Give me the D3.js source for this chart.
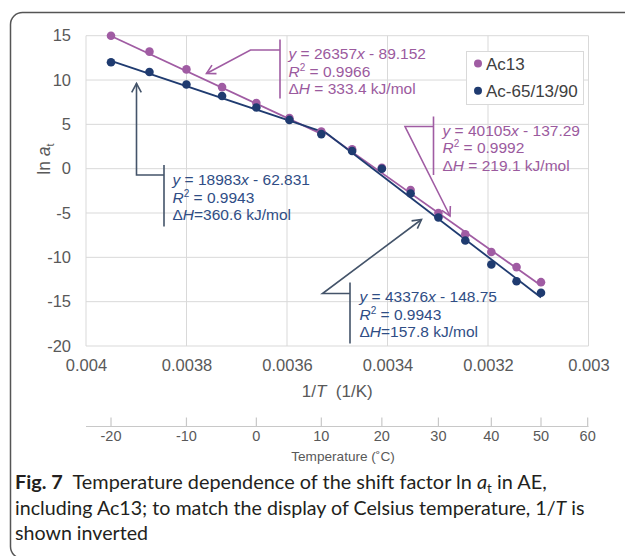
<!DOCTYPE html>
<html>
<head>
<meta charset="utf-8">
<script src="https://cdn.jsdelivr.net/npm/d3@7"></script>
<style>
  html, body { margin: 0; padding: 0; background: #fff; }
  svg { display: block; }
  .tick-lbl { font-family: "Liberation Sans", Arial, sans-serif; fill: #595959; }
  .caption { font-family: Lato, "Noto Sans", sans-serif; fill: #231f20; }
</style>
</head>
<body>
<svg id="chart" width="625" height="556"></svg>
<script>
(function() {
    'use strict';

    // temperatures of the measurements (deg C), x is 1/T
    var temps = [-20, -15, -10, -5, 0, 5, 10, 15, 20, 25, 30, 35, 40, 45, 50];
    var ac13  = [15.0, 13.2, 11.2, 9.2, 7.4, 5.7, 4.2, 2.2, 0.1, -2.4, -5.0, -7.4, -9.4, -11.1, -12.8];
    var ac65  = [12.0, 10.9, 9.5, 8.2, 6.9, 5.5, 3.9, 2.0, 0.0, -2.8, -5.5, -8.1, -10.8, -12.7, -14.0];

    var seriesNames = ["Ac13", "Ac-65/13/90"];
    var seriesColors = ["#a05ca3", "#1f3b70"];

    // trend lines (Excel linear fits) as printed on the chart
    var fitSeries    = [0, 0, 1, 1];
    var fitSlope     = [26357, 40105, 18983, 43376];
    var fitIntercept = [-89.152, -137.29, -62.831, -148.75];
    var fitR2        = ["0.9966", "0.9992", "0.9943", "0.9943"];
    var fitDH        = ["333.4", "219.1", "360.6", "157.8"];
    var fitFrom      = [-20, 10, -20, 10];
    var fitTo        = [10, 50, 10, 50];

    var xTicks = [0.004, 0.0038, 0.0036, 0.0034, 0.0032, 0.003];
    var yTicks = [15, 10, 5, 0, -5, -10, -15, -20];
    var tempTicks = [-20, -10, 0, 10, 20, 30, 40, 50, 60];

    var invT = function(t) { return 1 / (t + 273.15); };

    var svg = d3.select("#chart");

    // outer frame
    svg.append("rect")
        .attr("x", 10.5).attr("y", 12.5)
        .attr("width", 660).attr("height", 546)
        .attr("rx", 12)
        .attr("fill", "none")
        .attr("stroke", "#555")
        .attr("stroke-width", 1.5);

    var x = d3.scaleLinear().domain([0.004, 0.003]).range([86, 588.5]);
    var y = d3.scaleLinear().domain([-20, 15]).range([346, 35.7]);

    // grid
    var grid = svg.append("g").attr("stroke", "#d9d9d9").attr("stroke-width", 1);
    grid.selectAll("line.v").data(xTicks).enter().append("line")
        .attr("x1", function(d) { return x(d); }).attr("x2", function(d) { return x(d); })
        .attr("y1", y(15)).attr("y2", y(-20));
    grid.selectAll("line.h").data(yTicks).enter().append("line")
        .attr("x1", x(0.004)).attr("x2", x(0.003))
        .attr("y1", function(d) { return y(d); }).attr("y2", function(d) { return y(d); });

    // axes (labels only, Excel style)
    var xAxis = d3.axisBottom(x).tickValues(xTicks).tickSize(0).tickPadding(13)
        .tickFormat(function(d) { return String(+d.toFixed(4)); });
    var gx = svg.append("g").attr("transform", "translate(0," + y(-20) + ")").call(xAxis);
    var yAxis = d3.axisLeft(y).tickValues(yTicks).tickSize(0).tickPadding(15)
        .tickFormat(function(d) { return String(d); });
    var gy = svg.append("g").attr("transform", "translate(" + x(0.004) + ",0)").call(yAxis);
    [gx, gy].forEach(function(g) {
        g.select(".domain").remove();
        g.selectAll("text").attr("class", "tick-lbl")
            .style("font-size", "16.5px").attr("fill", "#595959");
    });

    // y title: ln a_t
    var yt = svg.append("text")
        .attr("transform", "translate(50,159) rotate(-90)")
        .attr("text-anchor", "middle")
        .attr("class", "tick-lbl")
        .style("font-size", "17.5px");
    yt.append("tspan").text("ln ");
    yt.append("tspan").style("font-style", "italic").text("a");
    yt.append("tspan").attr("dy", 4).style("font-size", "11px").text("t");

    // x title
    var xt = svg.append("text")
        .attr("x", (x.range()[0] + x.range()[1]) / 2).attr("y", 397)
        .attr("text-anchor", "middle")
        .attr("class", "tick-lbl")
        .style("font-size", "17px")
        .attr("xml:space", "preserve");
    xt.append("tspan").text("1/");
    xt.append("tspan").style("font-style", "italic").text("T");
    xt.append("tspan").text("\u00a0 (1/K)");

    // trend lines
    var lines = svg.append("g");
    fitSlope.forEach(function(m, i) {
        var pts = [fitFrom[i], fitTo[i]].map(function(t) {
            var u = invT(t);
            return [x(u), y(m * u + fitIntercept[i])];
        });
        lines.append("path")
            .attr("d", d3.line()(pts))
            .attr("stroke", seriesColors[fitSeries[i]])
            .attr("stroke-width", 1.8)
            .attr("fill", "none");
    });

    // points
    [ac13, ac65].forEach(function(vals, s) {
        svg.append("g").selectAll("circle").data(vals).enter().append("circle")
            .attr("cx", function(d, i) { return x(invT(temps[i])); })
            .attr("cy", function(d) { return y(d); })
            .attr("r", 4.3)
            .attr("fill", seriesColors[s]);
    });

    // legend
    var lg = svg.append("g");
    lg.append("rect").attr("x", 466.5).attr("y", 51.5).attr("width", 117).attr("height", 53)
        .attr("fill", "#fff").attr("stroke", "#d9d9d9");
    seriesNames.forEach(function(n, i) {
        var cy = 63.5 + i * 27.2;
        lg.append("circle").attr("cx", 478).attr("cy", cy).attr("r", 4).attr("fill", seriesColors[i]);
        lg.append("text").attr("x", 486).attr("y", cy + 6)
            .attr("class", "tick-lbl").style("fill", "#404040")
            .style("font-size", "17px").text(n);
    });

    // callouts for the fits: text anchor, bracket, elbow, arrow tip
    var callouts = [
        {tx: 288.5, ty: 53.5, bx: 280, by0: 39.5, by1: 98.5, ex: 250.5, ey: 50, ax: 206.5, ay: 73.5, sep: " = ", text: "#9b5a9e"},
        {tx: 442.5, ty: 130, bx: 433.5, by0: 116.5, by1: 175, ex: 405, ey: 126.5, ax: 450, ay: 216, sep: " = ", text: "#9b5a9e"},
        {tx: 172.5, ty: 179.5, bx: 164, by0: 165, by1: 226.5, ex: 136.5, ey: 175, ax: 136.5, ay: 83.5, sep: "=", text: "#2f4d85"},
        {tx: 359.5, ty: 296.5, bx: 350, by0: 282.5, by1: 343.5, ex: 322.5, ey: 293.5, ax: 421.5, ay: 219.5, sep: "=", text: "#2f4d85"}
    ];
    var lineColors = ["#a05ca3", "#44546a"];

    callouts.forEach(function(c, i) {
        var col = lineColors[fitSeries[i]];
        var g = svg.append("g");
        g.append("path")
            .attr("d", "M" + c.bx + "," + c.by0 + "V" + c.by1 +
                       "M" + c.bx + "," + c.ey + "H" + c.ex + "L" + c.ax + "," + c.ay)
            .attr("stroke", col).attr("stroke-width", 1.6).attr("fill", "none");
        // open arrow head
        var ang = Math.atan2(c.ay - c.ey, c.ax - c.ex), L = 10, w = 0.5;
        var p1 = [c.ax - L * Math.cos(ang - w), c.ay - L * Math.sin(ang - w)];
        var p2 = [c.ax - L * Math.cos(ang + w), c.ay - L * Math.sin(ang + w)];
        g.append("path")
            .attr("d", "M" + p1 + "L" + c.ax + "," + c.ay + "L" + p2)
            .attr("stroke", col).attr("stroke-width", 1.6).attr("fill", "none");

        var b = fitIntercept[i];
        var t = g.append("text").attr("class", "tick-lbl")
            .style("font-size", "15.5px").style("fill", c.text)
            .attr("xml:space", "preserve");
        var l1 = t.append("tspan").attr("x", c.tx).attr("y", c.ty + 5.5);
        l1.append("tspan").style("font-style", "italic").text("y");
        l1.append("tspan").text(" = " + fitSlope[i]);
        l1.append("tspan").style("font-style", "italic").text("x");
        l1.append("tspan").text(" " + (b < 0 ? "-" : "+") + " " + Math.abs(b));
        var l2 = t.append("tspan").attr("x", c.tx).attr("y", c.ty + 5.5 + 17.5);
        l2.append("tspan").style("font-style", "italic").text("R");
        l2.append("tspan").attr("dy", -6).style("font-size", "10px").text("2");
        l2.append("tspan").attr("dy", 6).text(" = " + fitR2[i]);
        var l3 = t.append("tspan").attr("x", c.tx).attr("y", c.ty + 5.5 + 35);
        l3.append("tspan").text("\u0394");
        l3.append("tspan").style("font-style", "italic").text("H");
        l3.append("tspan").text(c.sep + fitDH[i] + " kJ/mol");
    });

    // secondary Celsius axis (positions follow 1/T)
    var ty0 = 426.5;
    var tg = svg.append("g");
    tg.append("line").attr("x1", x.range()[0]).attr("x2", x.range()[1])
        .attr("y1", ty0).attr("y2", ty0).attr("stroke", "#c8c8c8").attr("stroke-width", 1.2);
    tg.selectAll("line.t").data(tempTicks).enter().append("line")
        .attr("x1", function(d) { return x(invT(d)); }).attr("x2", function(d) { return x(invT(d)); })
        .attr("y1", ty0 - 9).attr("y2", ty0).attr("stroke", "#c8c8c8").attr("stroke-width", 1.2);
    tg.selectAll("text").data(tempTicks).enter().append("text")
        .attr("x", function(d) { return x(invT(d)); }).attr("y", ty0 + 14)
        .attr("text-anchor", "middle").attr("class", "tick-lbl")
        .style("font-size", "14.5px").text(function(d) { return d; });
    svg.append("text").attr("x", 343).attr("y", 461).attr("text-anchor", "middle")
        .attr("class", "tick-lbl").style("font-size", "13.6px").text("Temperature (\u02daC)");

    // caption, one text per line, squeezed to the original line widths
    var capSize = 19.5, capX = 15;
    var capY = [489, 514.5, 540];
    var capW = [532, 570, null];
    var caps = capY.map(function(yy) {
        return svg.append("text").attr("class", "caption")
            .attr("x", 0).attr("y", 0)
            .style("font-size", capSize + "px")
            .attr("xml:space", "preserve");
    });
    caps[0].append("tspan").style("font-weight", "bold").text("Fig. 7");
    caps[0].append("tspan").text("\u00a0 Temperature dependence of the shift factor ln ");
    caps[0].append("tspan").style("font-style", "italic").text("a");
    caps[0].append("tspan").attr("dy", 4).style("font-size", "13px").text("t");
    caps[0].append("tspan").attr("dy", -4).text(" in AE,");
    caps[1].append("tspan").text("including Ac13; to match the display of Celsius temperature, 1/");
    caps[1].append("tspan").style("font-style", "italic").text("T");
    caps[1].append("tspan").text(" is");
    caps[2].text("shown inverted");

    var sxRef = 1;
    caps.forEach(function(c, i) {
        var w = c.node().getComputedTextLength();
        var sx = capW[i] ? capW[i] / w : sxRef;
        if (i === 1) sxRef = sx;
        c.attr("transform", "translate(" + capX + "," + capY[i] + ") scale(" + sx.toFixed(4) + ",1)");
    });
})();
</script>
</body>
</html>
